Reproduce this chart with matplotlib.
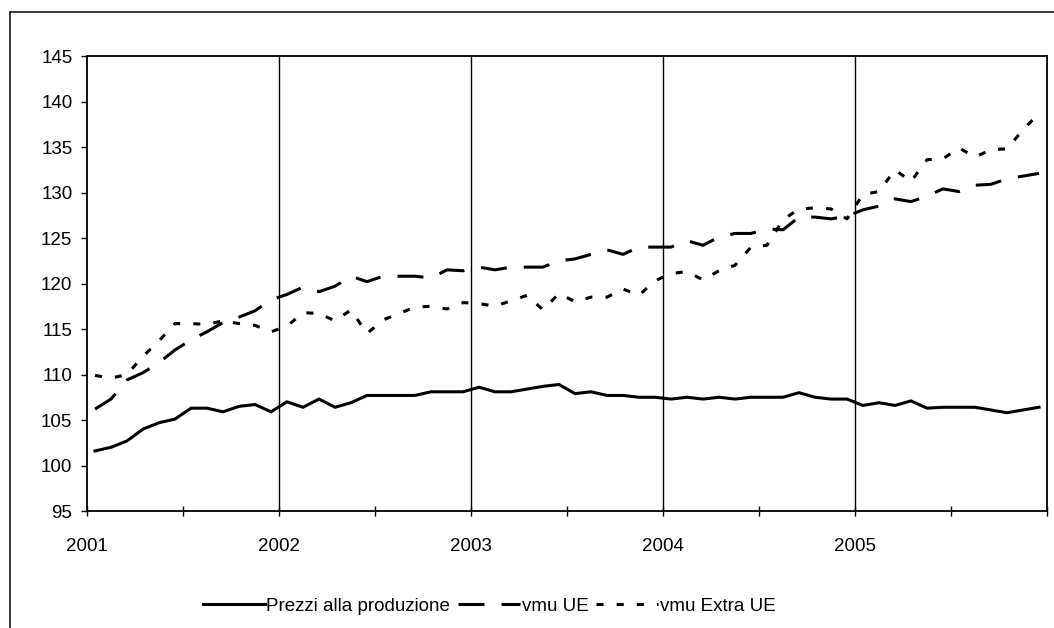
import matplotlib
matplotlib.use("Agg")
import matplotlib.pyplot as plt
from matplotlib.lines import Line2D
import numpy as np

plt.rcParams['font.family'] = ['Liberation Sans', 'DejaVu Sans']

years = ['2001', '2002', '2003', '2004', '2005']

prezzi = [101.6, 102.0, 102.7, 104.0, 104.7, 105.1, 106.3, 106.3, 105.9, 106.5, 106.7, 105.9,
          107.0, 106.4, 107.3, 106.4, 106.9, 107.7, 107.7, 107.7, 107.7, 108.1, 108.1, 108.1,
          108.6, 108.1, 108.1, 108.4, 108.7, 108.9, 107.9, 108.1, 107.7, 107.7, 107.5, 107.5,
          107.3, 107.5, 107.3, 107.5, 107.3, 107.5, 107.5, 107.5, 108.0, 107.5, 107.3, 107.3,
          106.6, 106.9, 106.6, 107.1, 106.3, 106.4, 106.4, 106.4, 106.1, 105.8, 106.1, 106.4]

vmu_ue = [106.2, 107.3, 109.4, 110.2, 111.3, 112.7, 113.8, 114.7, 115.7, 116.3, 117.0, 118.2,
          118.8, 119.6, 119.1, 119.7, 120.8, 120.2, 120.8, 120.8, 120.8, 120.6, 121.5, 121.4,
          121.8, 121.5, 121.8, 121.8, 121.8, 122.5, 122.7, 123.2, 123.7, 123.2, 124.0, 124.0,
          124.0, 124.7, 124.2, 125.1, 125.5, 125.5, 126.0, 125.9, 127.3, 127.3, 127.1, 127.4,
          128.1, 128.5, 129.3, 129.0, 129.6, 130.4, 130.1, 130.8, 130.9, 131.5, 131.8, 132.1]

vmu_extra = [109.9, 109.6, 110.0, 112.0, 113.7, 115.6, 115.6, 115.5, 115.9, 115.6, 115.4, 114.7,
             115.3, 116.8, 116.7, 115.9, 117.1, 114.5, 116.0, 116.7, 117.4, 117.5, 117.2, 117.9,
             117.8, 117.5, 118.1, 118.7, 117.1, 118.9, 118.0, 118.5, 118.5, 119.4, 118.7, 120.3,
             121.1, 121.3, 120.4, 121.4, 122.0, 124.0, 124.2, 127.0, 128.2, 128.3, 128.2, 127.1,
             129.8, 130.1, 132.5, 131.2, 133.6, 133.7, 134.9, 133.9, 134.7, 134.8, 136.9, 138.7]

W, H = 1054, 628
fig = plt.figure(figsize=(W / 100, H / 100), dpi=100)

# outer chart frame (continues past the right/bottom edges)
fig.add_artist(Line2D([9.5 / W, 9.5 / W], [0, 1 - 12 / H], transform=fig.transFigure,
                      color='black', lw=1.1))
fig.add_artist(Line2D([9.5 / W, 1.0], [1 - 12 / H, 1 - 12 / H], transform=fig.transFigure,
                      color='black', lw=1.1))

left, right, top, bottom = 87, 1047, 56, 511
ax = fig.add_axes([left / W, 1 - bottom / H, (right - left) / W, (bottom - top) / H])

n = len(prezzi)
x = np.arange(n) + 0.5
lw = 2.2
ax.plot(x, prezzi, color='black', lw=lw, solid_joinstyle='miter',
        label='Prezzi alla produzione')
ax.plot(x, vmu_ue, color='black', lw=lw, dashes=(8.5, 5.6), dash_capstyle='butt',
        label='vmu UE')
ax.plot(x, vmu_extra, color='black', lw=lw, dashes=(2.3, 4.3), dash_capstyle='butt',
        label='vmu Extra UE')

ax.set_xlim(0, n)
ax.set_ylim(95, 145)
ax.set_yticks(np.arange(95, 146, 5))
ax.set_xticks(np.arange(0, n + 1, 12))
ax.set_xticklabels(years + [''])
ax.set_xticks(np.arange(6, n, 12), minor=True)

for xv in range(12, n, 12):
    ax.axvline(xv, color='black', lw=1.0, zorder=1)

for s in ax.spines.values():
    s.set_linewidth(1.3)
    s.set_color('black')

ax.tick_params(axis='y', which='major', direction='out', length=4.5, width=1.0,
               labelsize=13.5, pad=6)
ax.tick_params(axis='x', which='both', direction='inout', length=7, width=1.0,
               labelsize=13.5, pad=16)

fig.legend(loc='center', bbox_to_anchor=(489 / W, 1 - 606 / H), ncol=3, frameon=False,
           fontsize=13.5, handlelength=3.3, handletextpad=0.1, columnspacing=0.4)

fig.savefig('out.png', dpi=100, facecolor='white')
